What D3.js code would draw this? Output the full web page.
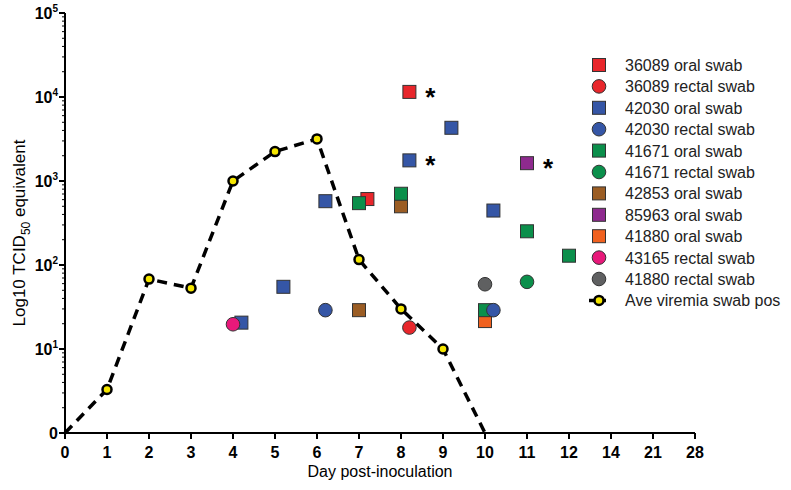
<!DOCTYPE html>
<html>
<head>
<meta charset="utf-8">
<script src="https://cdn.jsdelivr.net/npm/d3@7"></script>
<style>
  body { margin: 0; background: #fff; }
  text { font-family: "Liberation Sans", Arial, sans-serif; }
  .tick { font-family: "Liberation Sans Narrow", "Arial Narrow", "Liberation Sans", sans-serif; font-weight: bold; }
</style>
</head>
<body>
<div id="chart"></div>
<script>
// series, in legend order
const seriesNames = [
  "36089 oral swab", "36089 rectal swab", "42030 oral swab", "42030 rectal swab",
  "41671 oral swab", "41671 rectal swab", "42853 oral swab", "85963 oral swab",
  "41880 oral swab", "43165 rectal swab", "41880 rectal swab"
];
const seriesShapes = ["square", "circle", "square", "circle", "square", "circle",
  "square", "square", "square", "circle", "circle"];
const seriesColors = ["#e8262b", "#e8262b", "#3556a6", "#3556a6", "#0b8f4b", "#0b8f4b",
  "#9b5d24", "#8e2a8e", "#f0611f", "#e8197a", "#5f6061"];

// [day, TCID50 equivalent]
const seriesPoints = [
  [[7.2, 610], [8.2, 11500]],
  [[8.2, 18]],
  [[4.2, 20.6], [5.2, 55], [6.2, 575], [8.2, 1760], [9.2, 4300], [10.2, 445]],
  [[6.2, 29], [10.2, 29]],
  [[7.0, 545], [8.0, 705], [10.0, 29], [11.0, 252], [12.0, 129]],
  [[11.0, 63]],
  [[7.0, 29], [8.0, 500]],
  [[11.0, 1630]],
  [[10.0, 21.5]],
  [[4.0, 19.7]],
  [[10.0, 59]]
];

// points marked with an asterisk: [series index, day]
const starred = [[0, 8.2], [2, 8.2], [7, 11.0]];

// average viremia in swab-positive animals
const viremiaDays = [0, 1, 2, 3, 4, 5, 6, 7, 8, 9, 10];
const viremiaValues = [1, 3.3, 68, 53, 1000, 2240, 3170, 116, 30, 10, 1];
const viremiaLabel = "Ave viremia swab pos";

const xTicks = [0, 1, 2, 3, 4, 5, 6, 7, 8, 9, 10, 11, 12, 14, 21, 28];
const yTicks = [1, 10, 100, 1000, 10000, 100000];

const W = 791, H = 490;
const m = {left: 65, right: 96, top: 13, bottom: 57};

const svg = d3.select("#chart").append("svg")
  .attr("width", W).attr("height", H);

// x axis: days 0-12 evenly, then 14, 21, 28 take one step each
const step = (W - m.left - m.right) / (xTicks.length - 1);
const x = d3.scaleLinear()
  .domain([0, 12, 14, 21, 28])
  .range([m.left, m.left + 12 * step, m.left + 13 * step, m.left + 14 * step, m.left + 15 * step]);

const y = d3.scaleLog()
  .domain([1, 100000])
  .range([H - m.bottom, m.top]);

// y axis with minor ticks
const minor = [];
for (let e = 0; e < 5; e++) for (let k = 2; k <= 9; k++) minor.push(k * Math.pow(10, e));

const gy = svg.append("g").attr("transform", `translate(${m.left},0)`);
gy.append("line").attr("x1", 0).attr("x2", 0)
  .attr("y1", y(1)).attr("y2", y(100000))
  .attr("stroke", "#000").attr("stroke-width", 2);
gy.selectAll(".minor").data(minor).join("line")
  .attr("x1", -3).attr("x2", 0)
  .attr("y1", d => y(d)).attr("y2", d => y(d))
  .attr("stroke", "#000").attr("stroke-width", 1);
gy.selectAll(".major").data(yTicks).join("line")
  .attr("x1", -6).attr("x2", 0)
  .attr("y1", d => y(d)).attr("y2", d => y(d))
  .attr("stroke", "#000").attr("stroke-width", 2);
const ylab = gy.selectAll(".ylab").data(yTicks).join("text")
  .attr("class", "tick")
  .attr("x", -7).attr("y", d => y(d) + 6)
  .attr("text-anchor", "end")
  .attr("font-size", 16);
ylab.each(function (d) {
  const t = d3.select(this);
  if (d === 1) { t.text("0"); return; }
  t.append("tspan").text("10");
  t.append("tspan").attr("font-size", 10).attr("dy", -7).text(Math.round(Math.log10(d)));
});

// x axis
const gx = svg.append("g").attr("transform", `translate(0,${y(1)})`);
gx.append("line").attr("x1", x(0)).attr("x2", x(28))
  .attr("stroke", "#000").attr("stroke-width", 2);
gx.selectAll(".xt").data(xTicks).join("line")
  .attr("x1", d => x(d)).attr("x2", d => x(d))
  .attr("y1", 0).attr("y2", 6)
  .attr("stroke", "#000").attr("stroke-width", 2);
gx.selectAll(".xl").data(xTicks).join("text")
  .attr("class", "tick")
  .attr("x", d => x(d)).attr("y", 25)
  .attr("text-anchor", "middle")
  .attr("font-size", 16)
  .text(d => d);

svg.append("text")
  .attr("x", (x(0) + x(28)) / 2).attr("y", 477)
  .attr("text-anchor", "middle").attr("font-size", 16)
  .text("Day post-inoculation");

const yt = svg.append("text")
  .attr("transform", `translate(25,233) rotate(-90)`)
  .attr("text-anchor", "middle").attr("font-size", 17);
yt.append("tspan").text("Log10 TCID");
yt.append("tspan").attr("font-size", 12).attr("dy", 5).text("50");
yt.append("tspan").attr("dy", -5).text(" equivalent");

// marker helper
function marker(g, shape, color) {
  if (shape === "square") {
    g.append("rect").attr("x", -6.5).attr("y", -6.5).attr("width", 13).attr("height", 13)
      .attr("fill", color).attr("stroke", "#333").attr("stroke-width", 1);
  } else {
    g.append("circle").attr("r", 6.8)
      .attr("fill", color).attr("stroke", "#333").attr("stroke-width", 1);
  }
}

// viremia line
svg.append("path")
  .datum(viremiaDays.map((d, i) => [d, viremiaValues[i]]))
  .attr("fill", "none").attr("stroke", "#000")
  .attr("stroke-width", 3.5).attr("stroke-dasharray", "10,7")
  .attr("d", d3.line().x(d => x(d[0])).y(d => y(d[1])));

// scatter: squares first, then circles on top
const order = d3.range(seriesNames.length)
  .sort((a, b) => (seriesShapes[a] === "circle") - (seriesShapes[b] === "circle"));
// 41671 oral drawn last among squares
const gi = order.indexOf(4);
order.splice(gi, 1);
order.splice(order.findIndex(i => seriesShapes[i] === "circle"), 0, 4);

order.forEach(i => {
  seriesPoints[i].forEach(p => {
    const g = svg.append("g").attr("transform", `translate(${x(p[0])},${y(p[1])})`);
    marker(g, seriesShapes[i], seriesColors[i]);
  });
});

svg.selectAll(".vm").data(viremiaDays.filter((d, i) => viremiaValues[i] > 1))
  .join("circle")
  .attr("cx", d => x(d))
  .attr("cy", d => y(viremiaValues[viremiaDays.indexOf(d)]))
  .attr("r", 4.5).attr("fill", "#f5e600")
  .attr("stroke", "#000").attr("stroke-width", 2.5);

// asterisks
starred.forEach(([s, day]) => {
  const p = seriesPoints[s].find(q => q[0] === day);
  svg.append("text")
    .attr("x", x(p[0]) + 21).attr("y", y(p[1]) + 14)
    .attr("text-anchor", "middle")
    .attr("font-size", 26).attr("font-weight", "bold")
    .text("*");
});

// legend
const lg = svg.append("g").attr("transform", "translate(599,65)");
const rowH = 21.4;
seriesNames.forEach((name, i) => {
  const g = lg.append("g").attr("transform", `translate(0,${i * rowH})`);
  marker(g, seriesShapes[i], seriesColors[i]);
  g.append("text").attr("x", 26).attr("y", 6)
    .attr("font-size", 16).attr("fill", "#222").text(name);
});
const vg = lg.append("g").attr("transform", `translate(0,${seriesNames.length * rowH})`);
vg.append("line").attr("x1", -10).attr("x2", 10)
  .attr("stroke", "#000").attr("stroke-width", 3.5).attr("stroke-dasharray", "7,3");
vg.append("circle").attr("r", 4.5).attr("fill", "#f5e600")
  .attr("stroke", "#000").attr("stroke-width", 2.5);
vg.append("text").attr("x", 26).attr("y", 6)
  .attr("font-size", 16).attr("fill", "#222").text(viremiaLabel);
</script>
</body>
</html>
